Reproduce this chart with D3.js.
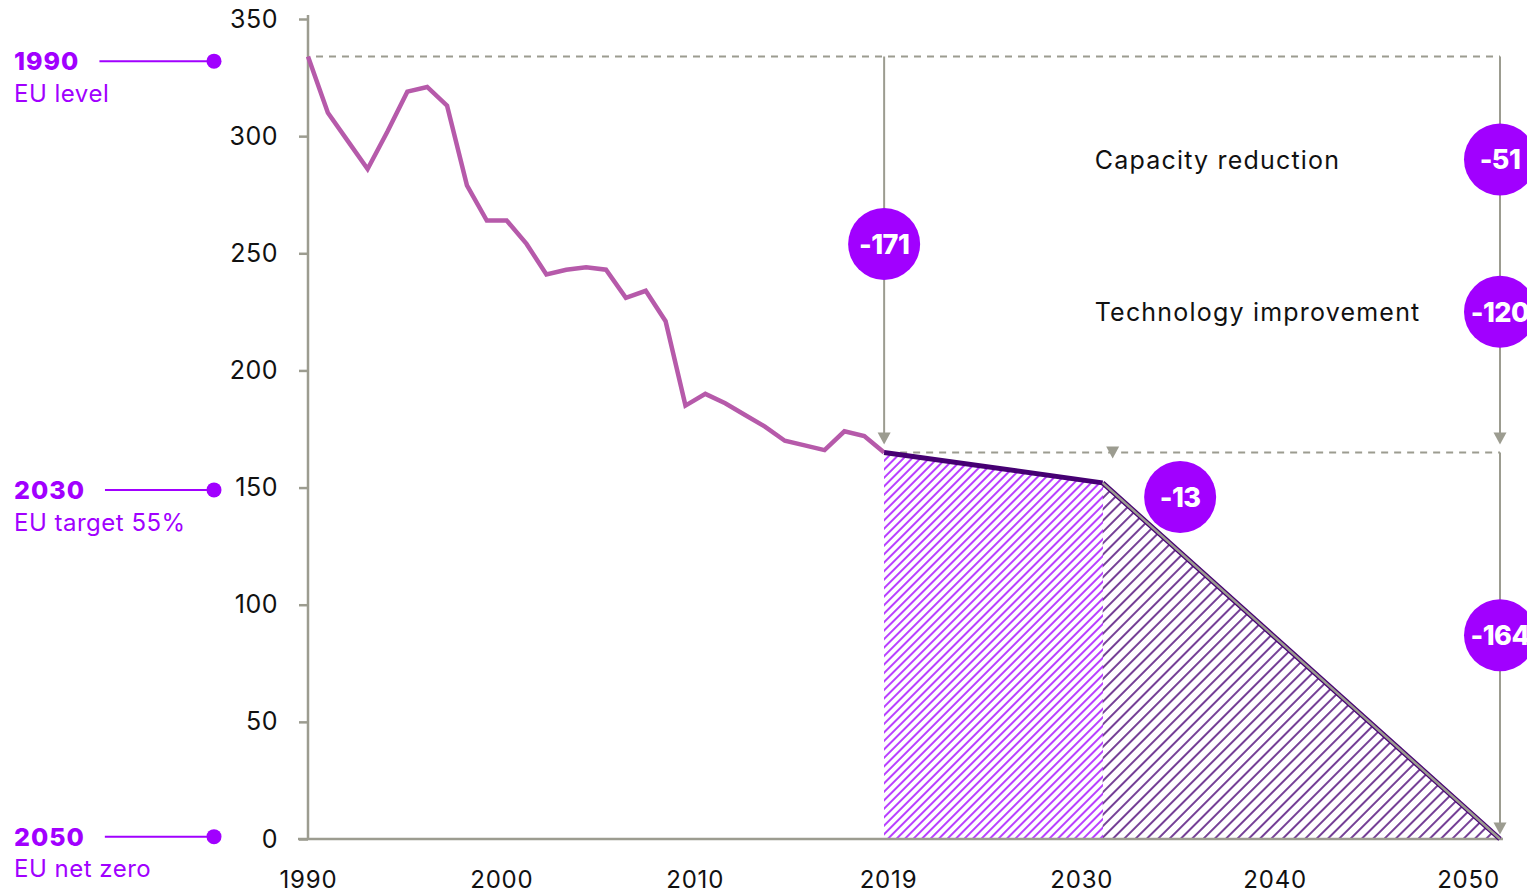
<!DOCTYPE html>
<html lang="en">
<head>
<meta charset="utf-8">
<title>Emissions pathway</title>
<script src="https://d3js.org/d3.v7.min.js"></script>
<style>
  body { margin: 0; background: #fff; }
  svg { display: block; font-family: Inter, "Noto Sans", sans-serif; }
</style>
</head>
<body>
<div id="chart"></div>
<script>
// historic emissions, one value per year
var years = [1990, 1991, 1992, 1993, 1994, 1995, 1996, 1997, 1998, 1999,
             2000, 2001, 2002, 2003, 2004, 2005, 2006, 2007, 2008, 2009,
             2010, 2011, 2012, 2013, 2014, 2015, 2016, 2017, 2018, 2019];
var emissions = [334, 310, 298, 286, 302, 319, 321, 313, 279, 264,
                 264, 254, 241, 243, 244, 243, 231, 234, 221, 185,
                 190, 186, 181, 176, 170, 168, 166, 174, 172, 165];
// projected pathway
var pathYears = [2019, 2030, 2050];
var pathValues = [165, 152, 0];
// axis labels
var yTicks = [0, 50, 100, 150, 200, 250, 300, 350];
var xLabels = ["1990", "2000", "2010", "2019", "2030", "2040", "2050"];
// bubbles
var bubbleLabels = ["-171", "-51", "-120", "-164", "-13"];
var bubbleYears = [2019, 2050, 2050, 2050, 2033.9];
var bubbleValues = [254, 290, 225, 87, 146];
// left markers
var markerYears = ["1990", "2030", "2050"];
var markerTexts = ["EU level", "EU target 55%", "EU net zero"];
var markerValues = [332, 149, 1];
// side texts
var sideTexts = ["Capacity reduction", "Technology improvement"];
var sideValues = [290, 225];

var W = 1527, H = 896;
var purple = "#a100ff", dark = "#460073", grey = "#9c9c90", lineCol = "#b65aaa";

var svg = d3.select("#chart").append("svg").attr("width", W).attr("height", H);

var x = d3.scaleLinear().domain([1990, 2050]).range([308, 1500]);
var y = d3.scaleLinear().domain([0, 350]).range([839, 19]);
var xl = d3.scalePoint().domain(xLabels).range([308, 1468]);

// hatch patterns
var defs = svg.append("defs");
function hatch(id, color, size, sw) {
  defs.append("pattern").attr("id", id)
    .attr("patternUnits", "userSpaceOnUse")
    .attr("width", size).attr("height", size)
    .attr("patternTransform", "rotate(45)")
    .append("line")
    .attr("x1", size / 2).attr("y1", -1).attr("x2", size / 2).attr("y2", size + 1)
    .attr("stroke", color).attr("stroke-width", sw);
}
hatch("hatchA", purple, 6, 1.5);
hatch("hatchB", dark, 8, 1.5);

var pathData = pathYears.map(function(d, i) { return { year: d, value: pathValues[i] }; });
var area = d3.area().x(function(d) { return x(d.year); }).y0(y(0)).y1(function(d) { return y(d.value); });

svg.append("path").datum(pathData.slice(1, 3))
  .attr("d", area).attr("fill", "url(#hatchB)");
svg.append("path").datum(pathData.slice(0, 2))
  .attr("d", area).attr("fill", "url(#hatchA)").attr("shape-rendering", "crispEdges");

// axes
var yAxis = svg.append("g").attr("transform", "translate(" + x(1990) + ",0)")
  .call(d3.axisLeft(y).tickValues(yTicks).tickSize(9).tickPadding(21));
yAxis.select(".domain").remove();
yAxis.selectAll(".tick line").attr("stroke", grey).attr("stroke-width", 2.5);
yAxis.selectAll(".tick text").attr("font-size", 25).attr("fill", "#111")
  .attr("font-family", "Inter, sans-serif").attr("letter-spacing", 0.5);
svg.append("line").attr("x1", x(1990)).attr("x2", x(1990))
  .attr("y1", y(350) - 4).attr("y2", y(0))
  .attr("stroke", grey).attr("stroke-width", 2.5);

var xAxis = svg.append("g").attr("transform", "translate(0," + y(0) + ")")
  .call(d3.axisBottom(xl).tickSize(0).tickPadding(32));
xAxis.select(".domain").remove();
xAxis.selectAll(".tick text").attr("font-size", 24).attr("fill", "#111")
  .attr("font-family", "Inter, sans-serif").attr("letter-spacing", 0.8);
svg.append("line").attr("x1", x(1990) - 10).attr("x2", x(2050) + 3)
  .attr("y1", y(0)).attr("y2", y(0))
  .attr("stroke", grey).attr("stroke-width", 2.5);

// dashed reference levels
svg.append("line").attr("x1", x(1990) + 8).attr("x2", x(2050))
  .attr("y1", y(emissions[0])).attr("y2", y(emissions[0]))
  .attr("stroke", grey).attr("stroke-width", 2).attr("stroke-dasharray", "7,6");
svg.append("line").attr("x1", x(2019) + 16).attr("x2", x(2050))
  .attr("y1", y(pathValues[0])).attr("y2", y(pathValues[0]))
  .attr("stroke", grey).attr("stroke-width", 2).attr("stroke-dasharray", "7,6");

// arrows
function arrow(xp, v1, v2) {
  var y1 = y(v1), y2 = y(v2) - 8;
  svg.append("line").attr("x1", xp).attr("x2", xp).attr("y1", y1).attr("y2", y2 - 10)
    .attr("stroke", grey).attr("stroke-width", 2);
  svg.append("path")
    .attr("d", "M" + (xp - 6.5) + "," + (y2 - 12) + " L" + (xp + 6.5) + "," + (y2 - 12) + " L" + xp + "," + y2 + " Z")
    .attr("fill", grey);
}
arrow(x(2019), emissions[0], pathValues[0]);
arrow(x(2050), emissions[0], pathValues[0]);
arrow(x(2050), pathValues[0], 0 - 1.5);
arrow(x(2030) + 10, pathValues[0], pathValues[1] + 7);

// historic line
var line = d3.line().x(function(d) { return x(d.year); }).y(function(d) { return y(d.value); });
var hist = years.map(function(d, i) { return { year: d, value: emissions[i] }; });
svg.append("path").datum(hist).attr("d", line)
  .attr("fill", "none").attr("stroke", lineCol).attr("stroke-width", 4.5)
  .attr("stroke-linejoin", "miter");

// pathway lines
svg.append("path").datum(pathData.slice(0, 2)).attr("d", line)
  .attr("fill", "none").attr("stroke", dark).attr("stroke-width", 5);
svg.append("path").datum(pathData.slice(1, 3)).attr("d", line)
  .attr("fill", "none").attr("stroke", dark).attr("stroke-width", 5);
svg.append("path").datum(pathData.slice(1, 3)).attr("d", line)
  .attr("fill", "none").attr("stroke", grey).attr("stroke-width", 2.5);

// bubbles
var bubbles = svg.selectAll("g.bubble")
  .data(bubbleLabels.map(function(d, i) { return { label: d, year: bubbleYears[i], value: bubbleValues[i] }; }))
  .enter().append("g").attr("class", "bubble")
  .attr("transform", function(d) { return "translate(" + x(d.year) + "," + y(d.value) + ")"; });
bubbles.append("circle").attr("r", 36).attr("fill", purple);
bubbles.append("text").text(function(d) { return d.label; })
  .attr("text-anchor", "middle").attr("dy", "0.36em")
  .attr("fill", "#fff").attr("font-size", 27).attr("font-weight", 800)
  .attr("letter-spacing", -0.5);

// side texts
svg.selectAll("text.side").data(sideTexts).enter().append("text")
  .attr("class", "side").text(function(d) { return d; })
  .attr("x", x(2029.6)).attr("y", function(d, i) { return y(sideValues[i]); })
  .attr("dy", "0.36em").attr("font-size", 25).attr("fill", "#111")
  .attr("letter-spacing", 1.2);

// left markers
markerYears.forEach(function(d, i) {
  var yy = y(markerValues[i]);
  var t = svg.append("text").text(d).attr("x", 14).attr("y", yy).attr("dy", "0.36em")
    .attr("font-size", 25).attr("font-weight", 800).attr("fill", purple)
    .attr("letter-spacing", 1);
  var tw = t.node().getComputedTextLength();
  svg.append("line").attr("x1", 14 + tw + 20).attr("x2", 214).attr("y1", yy).attr("y2", yy)
    .attr("stroke", purple).attr("stroke-width", 2);
  svg.append("circle").attr("cx", 214).attr("cy", yy).attr("r", 7.5).attr("fill", purple);
  svg.append("text").text(markerTexts[i]).attr("x", 14).attr("y", yy + 32).attr("dy", "0.36em")
    .attr("font-size", 24).attr("fill", purple).attr("letter-spacing", 0.5);
});
</script>
</body>
</html>
